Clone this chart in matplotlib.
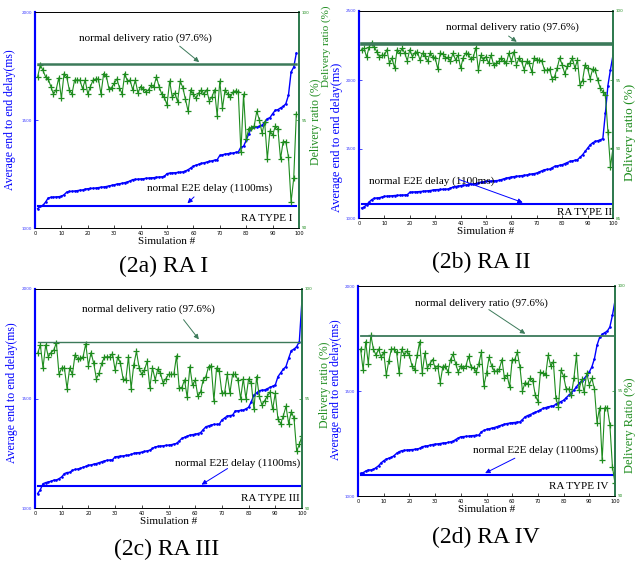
import matplotlib.pyplot as plt
import numpy as np

plt.rcParams['font.family'] = ['Liberation Serif', 'DejaVu Serif']

# ---- data ----
a_delay = [1090, 1100, 1105, 1120, 1139, 1142, 1143, 1144, 1145, 1147,
           1154, 1166, 1169, 1170, 1171, 1173, 1175, 1176, 1180, 1182,
           1183, 1184, 1185, 1187, 1189, 1190, 1192, 1195, 1197, 1200,
           1203, 1205, 1207, 1210, 1213, 1218, 1224, 1225, 1226, 1227,
           1228, 1230, 1231, 1232, 1233, 1235, 1236, 1237, 1239, 1252,
           1254, 1255, 1256, 1257, 1258, 1260, 1264, 1270, 1278, 1287,
           1291, 1295, 1299, 1302, 1305, 1308, 1311, 1314, 1316, 1336,
           1339, 1342, 1344, 1346, 1347, 1350, 1352, 1375, 1378, 1406,
           1437, 1465, 1467, 1468, 1470, 1475, 1490, 1506, 1511, 1529,
           1545, 1548, 1556, 1563, 1575, 1614, 1722, 1745, 1810]
a_ratio = [97.0, 97.55, 97.3, 97.0, 96.9, 96.55, 96.2, 96.4, 96.95, 96.0,
           97.15, 97.0, 96.4, 96.2, 96.85, 96.85, 96.85, 96.45, 96.85, 96.2,
           96.55, 96.85, 96.9, 96.9, 96.2, 97.15, 97.05, 96.45, 96.5, 96.7,
           96.9, 96.5, 96.2, 97.15, 96.8, 96.85, 96.4, 96.85, 96.25, 96.55,
           96.45, 96.3, 96.4, 96.6, 96.55, 97.0, 96.55, 96.2, 96.05, 95.7,
           96.8, 96.05, 96.25, 95.85, 96.8, 96.5, 95.95, 95.4, 96.4, 96.2,
           96.0, 96.25, 96.4, 96.2, 96.4, 95.9, 96.05, 96.4, 95.2, 96.8,
           95.55, 96.4, 96.2, 96.05, 96.3, 96.35, 96.3, 93.5, 96.2, 94.1,
           94.6, 94.65, 94.7, 95.4, 95.0, 94.4, 94.9, 93.2, 94.5, 94.3,
           94.7, 94.6, 93.2, 94.0, 94.0, 93.3, 91.2, 92.3, 95.3]

b_delay = [1072, 1080, 1096, 1116, 1133, 1143, 1145, 1147, 1152, 1157,
           1158, 1160, 1161, 1163, 1164, 1165, 1166, 1167, 1169, 1186,
           1188, 1189, 1190, 1192, 1193, 1195, 1197, 1199, 1202, 1205,
           1206, 1207, 1208, 1209, 1210, 1217, 1224, 1228, 1231, 1234,
           1237, 1239, 1241, 1244, 1246, 1250, 1254, 1258, 1262, 1265,
           1267, 1268, 1269, 1271, 1272, 1278, 1284, 1289, 1293, 1297,
           1300, 1302, 1304, 1307, 1309, 1312, 1316, 1319, 1322, 1326,
           1334, 1342, 1350, 1352, 1354, 1364, 1374, 1378, 1382, 1386,
           1394, 1402, 1410, 1414, 1418, 1422, 1440, 1458, 1482, 1506,
           1530, 1545, 1555, 1560, 1567, 1575, 1760, 1960, 2075, 2180]
b_ratio = [97.2, 97.3, 96.65, 97.4, 97.7, 97.4, 97.05, 96.7, 96.8, 96.8,
           97.2, 96.2, 96.6, 95.85, 97.2, 96.95, 97.3, 96.95, 96.4, 97.2,
           96.7, 96.95, 97.05, 96.45, 96.95, 96.75, 96.35, 96.95, 96.7, 96.6,
           95.8, 96.95, 96.9, 96.6, 96.65, 96.35, 96.95, 96.45, 96.8, 95.85,
           96.6, 96.95, 96.9, 96.5, 96.65, 97.35, 95.7, 96.8, 96.45, 96.7,
           96.2, 96.8, 96.1, 96.2, 96.35, 96.6, 96.35, 96.2, 96.95, 96.35,
           97.05, 96.1, 96.6, 96.35, 95.75, 96.35, 96.2, 95.6, 96.6, 96.45,
           96.45, 96.35, 95.75, 95.7, 95.8, 95.1, 95.25, 95.85, 96.6, 96.1,
           95.45, 96.0, 96.2, 96.6, 95.85, 96.45, 94.65, 94.95, 96.1, 95.85,
           95.1, 95.8, 95.7, 95.0, 94.4, 94.15, 93.9, 91.25, 88.7, 90.1]

c_delay = [1066, 1084, 1111, 1116, 1119, 1122, 1127, 1128, 1134, 1142,
           1157, 1162, 1163, 1172, 1176, 1178, 1181, 1186, 1190, 1195,
           1197, 1200, 1203, 1207, 1211, 1215, 1218, 1219, 1220, 1234,
           1235, 1237, 1238, 1240, 1241, 1245, 1249, 1252, 1253, 1255,
           1258, 1261, 1264, 1272, 1279, 1281, 1283, 1284, 1286, 1287,
           1289, 1292, 1295, 1306, 1318, 1323, 1328, 1333, 1335, 1337,
           1340, 1344, 1358, 1371, 1375, 1379, 1382, 1382, 1383, 1402,
           1411, 1420, 1422, 1424, 1443, 1444, 1446, 1447, 1453, 1460,
           1485, 1516, 1526, 1536, 1538, 1539, 1545, 1551, 1556, 1562,
           1600, 1617, 1634, 1646, 1684, 1719, 1725, 1737, 1760, 1951]
c_ratio = [97.07, 97.45, 96.4, 97.45, 96.9, 97.1, 97.2, 97.55, 96.1, 96.4,
           96.4, 95.45, 96.4, 96.1, 97.0, 96.8, 96.85, 96.9, 97.5, 96.5,
           97.1, 96.6, 95.9, 96.15, 96.6, 96.9, 96.9, 96.9, 97.05, 96.3,
           96.9, 96.6, 95.9, 95.85, 96.9, 95.45, 96.55, 97.15, 96.4, 96.1,
           96.3, 96.7, 95.5, 96.4, 95.85, 96.35, 96.15, 95.7, 95.9, 96.1,
           96.1, 96.1, 96.95, 95.5, 95.5, 95.85, 95.05, 96.45, 95.6, 95.85,
           95.1, 95.3, 95.85, 96.0, 96.45, 96.5, 94.9, 96.4, 96.25, 95.25,
           95.25, 96.1, 95.25, 96.1, 96.1, 95.85, 95.0, 95.9, 95.0, 95.9,
           95.7, 94.5, 96.0, 95.1, 94.7, 94.9, 95.1, 95.3, 94.5, 95.25,
           94.05, 93.85, 94.2, 94.65, 93.85, 94.4, 94.1, 92.6, 92.9, 93.3]

d_delay = [1108, 1111, 1119, 1124, 1124, 1127, 1135, 1144, 1158, 1168,
           1176, 1180, 1184, 1192, 1203, 1211, 1216, 1217, 1219, 1220,
           1221, 1222, 1224, 1227, 1235, 1237, 1239, 1242, 1245, 1247,
           1248, 1250, 1252, 1253, 1255, 1258, 1261, 1269, 1276, 1282,
           1283, 1284, 1285, 1287, 1288, 1289, 1290, 1306, 1312, 1317,
           1320, 1323, 1326, 1330, 1334, 1338, 1342, 1345, 1347, 1349,
           1350, 1352, 1353, 1364, 1377, 1383, 1388, 1393, 1399, 1404,
           1411, 1417, 1421, 1425, 1427, 1429, 1437, 1444, 1450, 1456,
           1468, 1480, 1492, 1504, 1520, 1536, 1548, 1559, 1575, 1591,
           1615, 1654, 1718, 1755, 1770, 1778, 1785, 1805, 1860, 1930]
d_ratio = [97.0, 96.0, 97.35, 96.3, 97.65, 97.0, 96.7, 97.0, 96.6, 96.85,
           95.75, 96.45, 97.0, 97.0, 96.85, 95.85, 97.0, 96.7, 96.9, 96.7,
           96.2, 96.0, 96.7, 97.35, 95.85, 96.8, 96.1, 96.3, 96.5, 96.1,
           96.2, 95.4, 96.15, 96.2, 95.9, 96.5, 96.75, 96.3, 95.9, 96.2,
           96.1, 96.2, 96.65, 96.15, 96.1, 95.9, 96.3, 96.85, 95.25, 95.85,
           96.6, 96.2, 95.95, 95.95, 96.05, 96.5, 95.6, 95.75, 95.2, 96.5,
           96.5, 96.85, 96.15, 95.0, 95.4, 95.35, 95.6, 95.5, 94.8, 94.5,
           95.9, 95.85, 95.75, 96.7, 96.2, 96.4, 94.65, 94.25, 96.0, 95.7,
           95.1, 95.1, 94.8, 95.6, 96.7, 95.05, 95.55, 94.95, 95.85, 95.3,
           95.6, 95.1, 93.5, 94.2, 91.7, 94.2, 94.2, 93.4, 91.4, 90.6]

normal_ratio = 97.6
normal_delay = 1100
xticks = list(range(0, 101, 10))

W, H = 637, 563
BLUE = '#0000ff'
GREEN = '#1e8c1e'
DKGREEN = '#3c7a5a'
TICKFONT = 'DejaVu Sans'

fig = plt.figure(figsize=(W / 100, H / 100), dpi=100)


def px(x, y):
    return x / W, 1 - y / H


def panel(box, delay, ratio, ylim1, yticks1, ylim2, yticks2, type_label,
          rtext, rarrow, dtext, darrow, ttext, ratio_lw):
    l, t, r, b = box
    ax = fig.add_axes([l / W, 1 - b / H, (r - l) / W, (b - t) / H])
    ax2 = ax.twinx()
    x = np.arange(1, len(delay) + 1)

    ax.plot(x, delay, color=BLUE, lw=1.0, marker='.', ms=1.8)
    ax.plot([1, len(delay)], [normal_delay, normal_delay], color=BLUE, lw=1.5)
    ax2.plot(x, ratio, color=GREEN, lw=0.8, marker='+', ms=3.8, mew=0.9)
    ax2.plot([1, len(ratio)], [normal_ratio, normal_ratio], color=DKGREEN, lw=ratio_lw)

    ax.set_xlim(0, 100)
    ax.set_ylim(*ylim1)
    ax2.set_ylim(*ylim2)
    ax.set_xticks(xticks)
    ax.set_yticks(yticks1)
    ax2.set_yticks(yticks2)
    ax.tick_params(axis='x', direction='in', length=2.5, width=0.5, pad=2,
                   labelsize=3.6, labelfontfamily=TICKFONT)
    ax.tick_params(axis='y', direction='in', length=2.5, width=0.5, pad=2,
                   labelsize=3.0, labelcolor='#3a3aff', color=BLUE, labelfontfamily=TICKFONT)
    ax2.tick_params(axis='y', direction='in', length=2.5, width=0.5, pad=2,
                    labelsize=3.0, labelcolor=GREEN, color=GREEN, labelfontfamily=TICKFONT)
    for a in (ax, ax2):
        a.spines['left'].set_color(BLUE)
        a.spines['left'].set_linewidth(1.5)
        a.spines['right'].set_color('#2f7a4f')
        a.spines['right'].set_linewidth(1.3)
        a.spines['top'].set_linewidth(0.6)
        a.spines['bottom'].set_linewidth(0.6)
    ax.set_xlabel('Simulation #', fontsize=8, labelpad=1)

    ax2.text(*rtext, 'normal delivery ratio (97.6%)', fontsize=8, ha='center', va='center')
    ax2.annotate('', xy=rarrow[1], xytext=rarrow[0],
                 arrowprops=dict(arrowstyle='-|>', color=DKGREEN, lw=0.7, mutation_scale=7))
    ax.text(*dtext, 'normal E2E delay (1100ms)', fontsize=8, ha='center', va='center')
    ax.annotate('', xy=darrow[1], xytext=darrow[0],
                arrowprops=dict(arrowstyle='-|>', color=BLUE, lw=0.7, mutation_scale=7))
    ax.text(*ttext, type_label, fontsize=8, ha='right', va='center')
    return ax, ax2


panel((35, 12, 299, 228), a_delay, a_ratio, (1000, 2000), [1000, 1500, 2000],
      (90, 100), [90, 95, 100], 'RA TYPE I',
      (42, 98.8), ((54, 98.5), (63, 97.6)), (66, 1185), ((61, 1153), (57, 1105)),
      (97.5, 1042), 1.8)
panel((359, 11, 613, 218), b_delay, b_ratio, (1000, 2500), [1000, 1500, 2000, 2500],
      (85, 100), [85, 90, 95, 100], 'RA TYPE II',
      (60.5, 98.85), ((58, 98.3), (63, 97.65)), (28.5, 1265), ((38.5, 1285), (65.5, 1105)),
      (99.5, 1040), 2.6)
panel((35, 289, 302, 508), c_delay, c_ratio, (1000, 2000), [1000, 1500, 2000],
      (90, 100), [90, 95, 100], 'RA TYPE III',
      (42.5, 99.1), ((55, 98.7), (62, 97.6)), (76, 1205), ((73, 1187), (61.5, 1100)),
      (99, 1045), 1.0)
panel((358, 286, 615, 496), d_delay, d_ratio, (1000, 2000), [1000, 1500, 2000],
      (90, 100), [90, 95, 100], 'RA TYPE IV',
      (48, 99.2), ((50, 98.95), (66, 97.65)), (69, 1219), ((62, 1186), (48.5, 1103)),
      (97.3, 1043), 1.3)

# y labels placed as in the composite figure
fig.text(*px(10, 120), 'Average end to end delay(ms)', color=BLUE, fontsize=8.5,
         rotation=90, ha='center', va='center')
fig.text(*px(316, 122), 'Delivery ratio (%)', color=GREEN, fontsize=8.5,
         rotation=90, ha='center', va='center')
fig.text(*px(326, 46), 'Delivery ratio (%)', color=GREEN, fontsize=8,
         rotation=90, ha='center', va='center')
fig.text(*px(337, 137), 'Average end to end delay(ms)', color=BLUE, fontsize=9,
         rotation=90, ha='center', va='center')
fig.text(*px(630, 132), 'Delivery ratio (%)', color=GREEN, fontsize=9.5,
         rotation=90, ha='center', va='center')
fig.text(*px(12, 393), 'Average end to end delay(ms)', color=BLUE, fontsize=8.5,
         rotation=90, ha='center', va='center')
fig.text(*px(325, 385), 'Delivery ratio (%)', color=GREEN, fontsize=8.5,
         rotation=90, ha='center', va='center')
fig.text(*px(336, 390), 'Average end to end delay(ms)', color=BLUE, fontsize=8.5,
         rotation=90, ha='center', va='center')
fig.text(*px(630, 425), 'Delivery Ratio (%)', color=GREEN, fontsize=9,
         rotation=90, ha='center', va='center')

# captions
fig.text(*px(164, 266), '(2a) RA I', fontsize=17, ha='center', va='center')
fig.text(*px(481, 262), '(2b) RA II', fontsize=17, ha='center', va='center')
fig.text(*px(167, 549), '(2c) RA III', fontsize=17, ha='center', va='center')
fig.text(*px(486, 537), '(2d) RA IV', fontsize=17, ha='center', va='center')

fig.savefig('out.png', dpi=100)
